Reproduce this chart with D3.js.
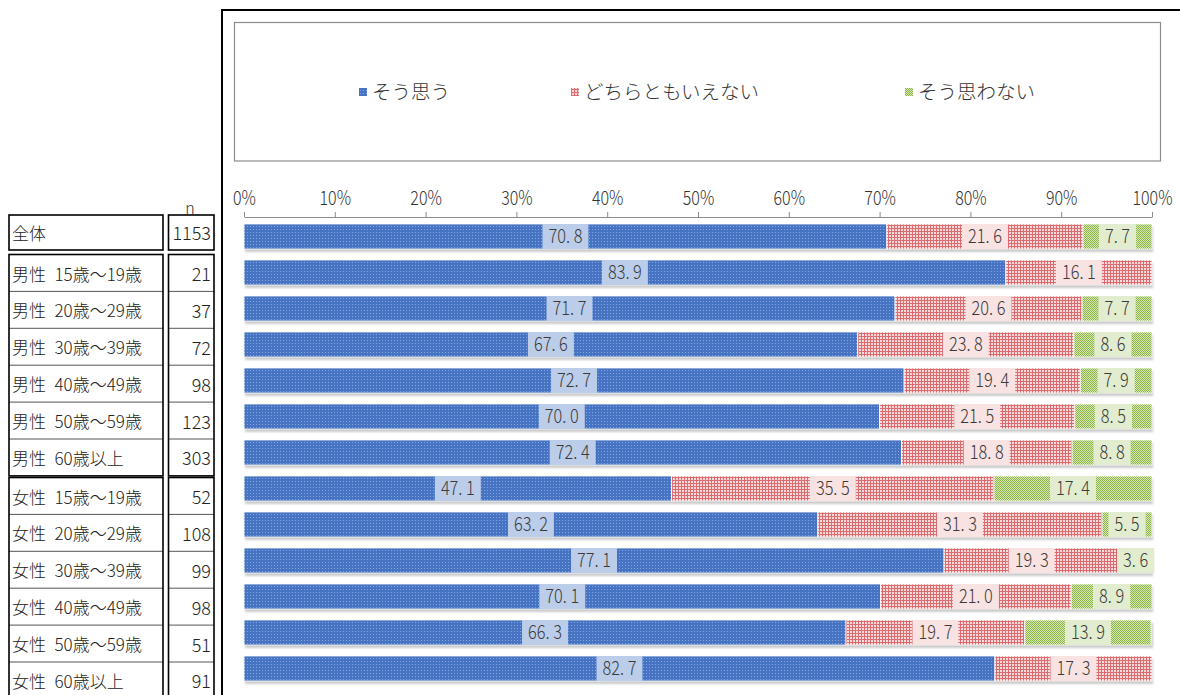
<!DOCTYPE html>
<html>
<head>
<meta charset="utf-8">
<script src="https://cdn.jsdelivr.net/npm/d3@7"></script>
<style>
  body { margin: 0; background: #fff; }
  svg { display: block; font-family: "Noto Sans CJK JP", "Noto Sans", sans-serif; font-weight: 300; }
</style>
</head>
<body>
<svg></svg>
<script>
// data
const categories = ['全体', '男性 15歳～19歳', '男性 20歳～29歳', '男性 30歳～39歳', '男性 40歳～49歳', '男性 50歳～59歳', '男性 60歳以上',
                    '女性 15歳～19歳', '女性 20歳～29歳', '女性 30歳～39歳', '女性 40歳～49歳', '女性 50歳～59歳', '女性 60歳以上']
const sampleSizes = [1153, 21, 37, 72, 98, 123, 303, 52, 108, 99, 98, 51, 91]
const agree    = [70.8, 83.9, 71.7, 67.6, 72.7, 70.0, 72.4, 47.1, 63.2, 77.1, 70.1, 66.3, 82.7]
const neutral  = [21.6, 16.1, 20.6, 23.8, 19.4, 21.5, 18.8, 35.5, 31.3, 19.3, 21.0, 19.7, 17.3]
const disagree = [7.7, 0, 7.7, 8.6, 7.9, 8.5, 8.8, 17.4, 5.5, 3.6, 8.9, 13.9, 0]
const seriesKeys = ['agree', 'neutral', 'disagree']
const seriesNames = ['そう思う', 'どちらともいえない', 'そう思わない']
const tickValues = [0, 10, 20, 30, 40, 50, 60, 70, 80, 90, 100]

const width = 1180
const height = 695
const svg = d3.select('svg').attr('width', width).attr('height', height)

const fills = { agree: 'url(#pat-blue)', neutral: 'url(#pat-pink)', disagree: 'url(#pat-green)' }
const labelBg = { agree: '#bccdea', neutral: '#f8e2e2', disagree: '#e2edcf' }

const makePatterns = ()=>{
    const defs = svg.append('defs')
    const blue = defs.append('pattern').attr('id', 'pat-blue')
        .attr('patternUnits', 'userSpaceOnUse').attr('width', 3).attr('height', 3)
    blue.append('rect').attr('width', 3).attr('height', 3).attr('fill', '#4674c2')
    blue.append('rect').attr('x', 1).attr('y', 1).attr('width', 1).attr('height', 1).attr('fill', '#86a7de')

    const pink = defs.append('pattern').attr('id', 'pat-pink')
        .attr('patternUnits', 'userSpaceOnUse').attr('width', 3).attr('height', 3)
    pink.append('rect').attr('width', 3).attr('height', 3).attr('fill', '#f7dcdc')
    pink.append('path').attr('d', 'M0,0.5H3M0.5,0V3').attr('stroke', '#dc6a6e').attr('stroke-width', 1)

    // small zigzag made of single pixels
    const green = defs.append('pattern').attr('id', 'pat-green')
        .attr('patternUnits', 'userSpaceOnUse').attr('width', 4).attr('height', 4)
    green.append('rect').attr('width', 4).attr('height', 4).attr('fill', '#d6e8b4')
    const zig = [[0, 0], [1, 1], [2, 0], [3, 1], [0, 2], [1, 3], [2, 2], [3, 3]]
    green.selectAll('rect.z').data(zig).enter().append('rect').attr('class', 'z')
        .attr('x', (d) => d[0]).attr('y', (d) => d[1]).attr('width', 1).attr('height', 1)
        .attr('fill', '#8cb444')

    const blur = defs.append('filter').attr('id', 'shadow')
    blur.append('feGaussianBlur').attr('stdDeviation', 1.2)
}

const drawFrame = ()=>{
    // outer chart area and legend box
    svg.append('rect').attr('x', 222).attr('y', 10).attr('width', 1000).attr('height', 720)
        .attr('fill', 'none').attr('stroke', '#000').attr('stroke-width', 2)
    svg.append('rect').attr('x', 234.5).attr('y', 22.5).attr('width', 926).attr('height', 138.5)
        .attr('fill', '#fff').attr('stroke', '#8c8c8c').attr('stroke-width', 1.2)
}

const drawLegend = ()=>{
    const legendX = [359, 571, 905]
    const items = svg.append('g').selectAll('g')
        .data(seriesKeys)
        .enter()
        .append('g')
        .attr('transform', (d, i) => 'translate(' + legendX[i] + ', 92)')
    items.append('rect').attr('x', 0).attr('y', -4).attr('width', 8).attr('height', 8)
        .attr('fill', (d) => fills[d])
    items.append('text').attr('x', 13).attr('dy', '0.35em')
        .attr('font-size', 19.5).attr('fill', '#333')
        .text((d, i) => seriesNames[i])
}

const drawBars = ()=>{
    const rows = categories.map((c, i) => ({ cat: c, agree: agree[i], neutral: neutral[i], disagree: disagree[i] }))
    const stacked = d3.stack().keys(seriesKeys)(rows)

    const xScale = d3.scaleLinear().domain([0, 100]).range([244, 1152]).clamp(true)
    const yScale = d3.scaleBand().domain(categories).range([218.5, 218.5 + 13 * 36])
        .paddingInner(0.305).paddingOuter(0.1525)
    const bw = yScale.bandwidth()

    // axis
    const xAxis = d3.axisTop(xScale)
        .tickValues(tickValues)
        .tickFormat((d) => d + '%')
        .tickSize(5)
        .tickSizeOuter(0)
        .tickPadding(7)
    const ax = svg.append('g')
        .attr('transform', 'translate(0, 217)')
        .call(xAxis)
    ax.select('.domain').attr('stroke', '#8c8c8c')
    ax.selectAll('.tick line').attr('stroke', '#8c8c8c')
    ax.selectAll('.tick text')
        .attr('font-size', 20).attr('fill', '#333')
        .attr('font-family', '"Noto Sans CJK JP", sans-serif')
        .attr('font-weight', 300)
        .attr('transform', 'scale(0.8, 1)')

    // shadows under each bar
    svg.append('g').selectAll('rect')
        .data(rows)
        .enter()
        .append('rect')
        .attr('x', xScale(0) + 1)
        .attr('y', (d) => yScale(d.cat) + 3)
        .attr('width', xScale(100) - xScale(0))
        .attr('height', bw)
        .attr('fill', '#b4b4b4')
        .attr('opacity', 0.7)
        .attr('filter', 'url(#shadow)')

    const layers = svg.append('g').selectAll('g')
        .data(stacked)
        .enter()
        .append('g')
        .attr('fill', (s) => fills[s.key])
    layers.selectAll('rect')
        .data((s) => s.filter((d) => d[1] - d[0] > 0))
        .enter()
        .append('rect')
        .attr('x', (d) => xScale(d[0]))
        .attr('y', (d) => yScale(d.data.cat))
        .attr('width', (d) => xScale(d[1]) - xScale(d[0]))
        .attr('height', bw)
        .attr('stroke', '#fff')
        .attr('stroke-width', 0.8)

    // value labels
    const fmt = (v) => d3.format('.1f')(v).replace('.', '. ')
    stacked.forEach((s) => {
        s.forEach((d) => {
            const v = d[1] - d[0]
            if (v <= 0) return
            const cx = (xScale(d[0]) + xScale(Math.min(d[1], 100))) / 2
            const cy = yScale(d.data.cat) + bw / 2
            const g = svg.append('g').attr('transform', 'translate(' + cx + ',' + cy + ') scale(0.86, 1)')
            const bg = g.append('rect')
            const t = g.append('text')
                .attr('text-anchor', 'middle')
                .attr('dy', '0.36em')
                .attr('font-size', 19)
                .attr('fill', '#3a3a3a')
                .text(fmt(v))
            const w = t.node().getComputedTextLength() + 14
            bg.attr('x', -w / 2).attr('y', -bw / 2).attr('width', w).attr('height', bw)
                .attr('fill', labelBg[s.key])
        })
    })
}

const drawTable = ()=>{
    const rowH = 36.9
    const rowTop = (i) => {
        if (i === 0) return 215
        if (i <= 6) return 254.5 + (i - 1) * rowH
        return 477.5 + (i - 7) * rowH
    }
    const rowBottom = (i) => i === 0 ? 250 : rowTop(i) + rowH
    const groups = [[0, 0], [1, 6], [7, 12]]
    const cols = [[9, 163], [168.5, 214]]
    const t = svg.append('g')

    groups.forEach(([a, b]) => {
        cols.forEach(([x0, x1]) => {
            for (let i = a; i < b; i++) {
                t.append('line').attr('x1', x0).attr('x2', x1)
                    .attr('y1', rowBottom(i)).attr('y2', rowBottom(i))
                    .attr('stroke', '#555').attr('stroke-width', 1)
            }
            t.append('rect').attr('x', x0).attr('y', rowTop(a))
                .attr('width', x1 - x0).attr('height', rowBottom(b) - rowTop(a))
                .attr('fill', 'none').attr('stroke', '#000').attr('stroke-width', 1.6)
        })
    })

    t.append('text').attr('x', 190).attr('y', 208).attr('dy', '0.35em')
        .attr('text-anchor', 'middle').attr('font-size', 16).attr('fill', '#333').text('n')

    categories.forEach((c, i) => {
        const cy = (rowTop(i) + rowBottom(i)) / 2 + 1.5
        t.append('text').attr('x', 12).attr('y', cy).attr('dy', '0.36em')
            .attr('font-size', 17).attr('fill', '#222')
            .text(c.replace(' ', '\u2002'))
        t.append('text').attr('x', 211).attr('y', cy).attr('dy', '0.36em')
            .attr('text-anchor', 'end').attr('font-size', 18).attr('fill', '#222')
            .text(sampleSizes[i])
    })
}

makePatterns()
drawFrame()
drawLegend()
drawBars()
drawTable()
</script>
</body>
</html>
